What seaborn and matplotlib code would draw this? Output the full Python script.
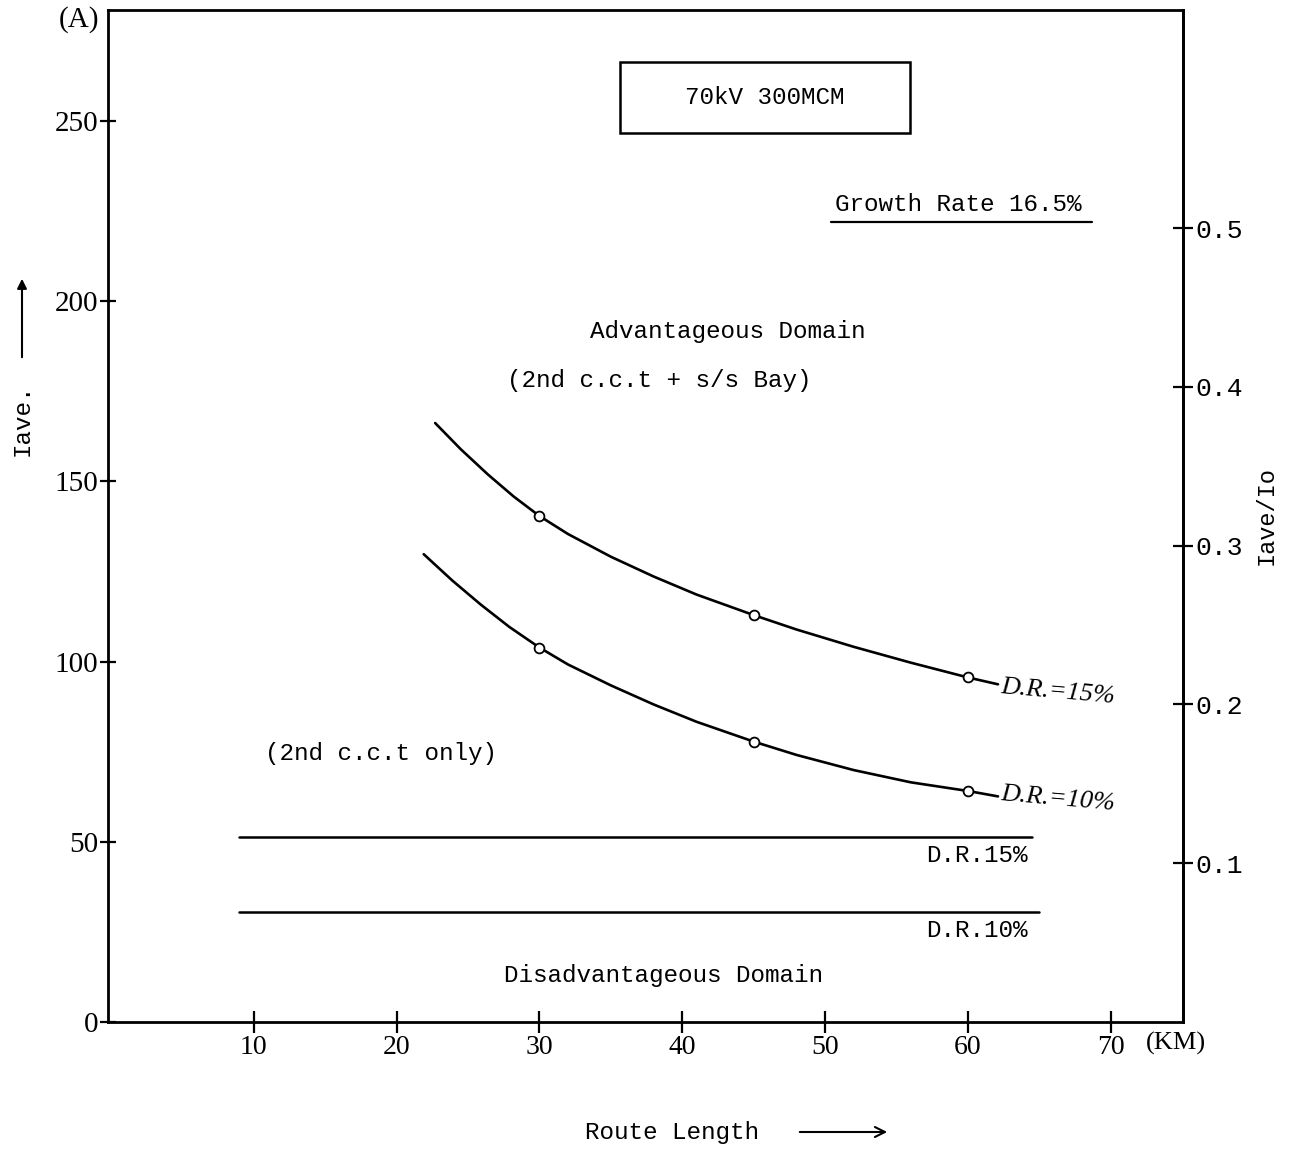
import numpy as np
import pandas as pd
import matplotlib
matplotlib.use("Agg")
import matplotlib.pyplot as plt
import seaborn as sns
from matplotlib.patches import Rectangle, FancyArrowPatch

# ---- data ----
dr15_x = [22.7, 24.5, 26.4, 28.2, 30, 32, 35, 38, 41, 45, 48, 52, 56, 60, 62.1]
dr15_y = [166.2, 158.9, 151.9, 145.8, 140.4, 135.4, 129.1, 123.6, 118.6, 112.9,
          108.9, 104.1, 99.7, 95.6, 93.7]
dr10_x = [21.9, 23.9, 25.9, 27.9, 30, 32, 35, 38, 41, 45, 48, 52, 56, 60, 62.1]
dr10_y = [129.8, 122.5, 115.8, 109.6, 103.9, 99.2, 93.4, 88.1, 83.3, 77.8,
          74.1, 69.9, 66.5, 64.1, 62.6]
mark_x = [30, 45, 60]
mark15_y = [140.4, 112.9, 95.6]
mark10_y = [103.9, 77.8, 64.1]
flat15_x = [9.0, 64.5]
flat15_y = [51.2, 51.2]
flat10_x = [9.0, 65.0]
flat10_y = [30.5, 30.5]
x_ticks = [10, 20, 30, 40, 50, 60, 70]
y_ticks = [0, 50, 100, 150, 200, 250]
r_ticks = [0.1, 0.2, 0.3, 0.4, 0.5]
Io = 440.5

sns.set_theme(style="ticks")
plt.rcParams['font.family'] = ['Liberation Mono', 'DejaVu Sans Mono']
plt.rcParams['mathtext.default'] = 'regular'
plt.rcParams['text.color'] = 'black'
plt.rcParams['axes.labelcolor'] = 'black'

fig = plt.figure(figsize=(12.9, 11.51), dpi=100)
ax = fig.add_axes([108/1290, 1 - 1022/1151, (1183-108)/1290, (1022-10)/1151])

curves = pd.concat([
    pd.DataFrame({"x": dr15_x, "y": dr15_y, "s": "15"}),
    pd.DataFrame({"x": dr10_x, "y": dr10_y, "s": "10"}),
])
for s in ["15", "10"]:
    sns.lineplot(data=curves[curves.s == s], x="x", y="y", ax=ax, color="black",
                 lw=1.9, sort=True, estimator=None)

flats = pd.concat([
    pd.DataFrame({"x": flat15_x, "y": flat15_y, "s": "15"}),
    pd.DataFrame({"x": flat10_x, "y": flat10_y, "s": "10"}),
])
for s in ["15", "10"]:
    sns.lineplot(data=flats[flats.s == s], x="x", y="y", ax=ax, color="black",
                 lw=1.8, estimator=None)

marks = pd.DataFrame({"x": mark_x + mark_x, "y": mark15_y + mark10_y})
sns.scatterplot(data=marks, x="x", y="y", ax=ax, s=50, facecolor="white",
                edgecolor="black", linewidth=1.3, zorder=5)

ax.set_xlim(-0.2, 75.05)
ax.set_ylim(0, 280.8)
ax.set_xticks(x_ticks)
ax.set_yticks(y_ticks)
ax.set_xticklabels([str(v) for v in x_ticks], family='Liberation Serif', fontsize=20)
ax.set_yticklabels([str(v) for v in y_ticks], family='Liberation Serif', fontsize=21)
ax.set_xlabel("")
ax.set_ylabel("")
for sp in ax.spines.values():
    sp.set_visible(True)
    sp.set_color("black")
    sp.set_linewidth(2.0)
ax.tick_params(axis='x', bottom=True, top=False, direction='inout', length=16,
               width=1.6, colors='black', pad=1)
ax.tick_params(axis='y', left=True, right=False, direction='inout', length=12,
               width=1.6, colors='black', pad=1)

sec = ax.secondary_yaxis('right', functions=(lambda y: y / Io, lambda r: r * Io))
sec.set_yticks(r_ticks)
sec.set_yticklabels([f"{v:.1f}" for v in r_ticks], family='Liberation Mono', fontsize=19)
sec.tick_params(direction='inout', length=14, width=1.6, colors='black', pad=2)
sec.spines['right'].set_linewidth(2.0)
sec.spines['right'].set_color('black')
sec.set_ylabel("Iave/Io", fontsize=17, labelpad=8, color='black')

fs = 17.5
ax.add_patch(Rectangle((35.65, 246.7), 20.3, 19.7, fill=False, ec="black", lw=1.8))
ax.text(45.8, 256.6, "70kV 300MCM", ha="center", va="center", fontsize=fs)
ax.text(59.3, 226.7, "Growth Rate 16.5%", ha="center", va="center", fontsize=fs)
ax.plot([50.4, 68.65], [222.0, 222.0], color="black", lw=1.6)
ax.text(43.2, 191.7, "Advantageous Domain", ha="center", va="center", fontsize=fs)
ax.text(38.4, 178.1, "(2nd c.c.t + s/s Bay)", ha="center", va="center", fontsize=fs)
ax.text(18.9, 74.4, "(2nd c.c.t only)", ha="center", va="center", fontsize=fs)
ax.text(64.2, 46.1, "D.R.15%", ha="right", va="center", fontsize=fs)
ax.text(64.2, 25.5, "D.R.10%", ha="right", va="center", fontsize=fs)
ax.text(38.7, 13.0, "Disadvantageous Domain", ha="center", va="center", fontsize=fs)
ax.text(62.2, 91.6, "D.R.=15%", ha="left", va="center", fontsize=19,
        family='Liberation Serif', style='italic', rotation=-5)
ax.text(62.2, 61.8, "D.R.=10%", ha="left", va="center", fontsize=19,
        family='Liberation Serif', style='italic', rotation=-5)

fig.text(79/1290, 1 - 20/1151, "(A)", ha="center", va="center", fontsize=21, family='Liberation Serif')
fig.text(1176/1290, 1 - 1043/1151, "(KM)", ha="center", va="center", fontsize=19, family='Liberation Serif')
fig.text(672/1290, 1 - 1132/1151, "Route Length", ha="center", va="center", fontsize=fs)
fig.add_artist(FancyArrowPatch((797/1290, 1 - 1132/1151), (890/1290, 1 - 1132/1151),
               transform=fig.transFigure, arrowstyle='->', mutation_scale=18, lw=1.5, color='black'))
fig.text(22/1290, 1 - 420/1151, "Iave.", ha="center", va="center", fontsize=fs, rotation=90)
fig.add_artist(FancyArrowPatch((22/1290, 1 - 360/1151), (22/1290, 1 - 276/1151),
               transform=fig.transFigure, arrowstyle='-|>', mutation_scale=14, lw=1.5, color='black'))

fig.savefig("out.png", dpi=100, facecolor="white")
